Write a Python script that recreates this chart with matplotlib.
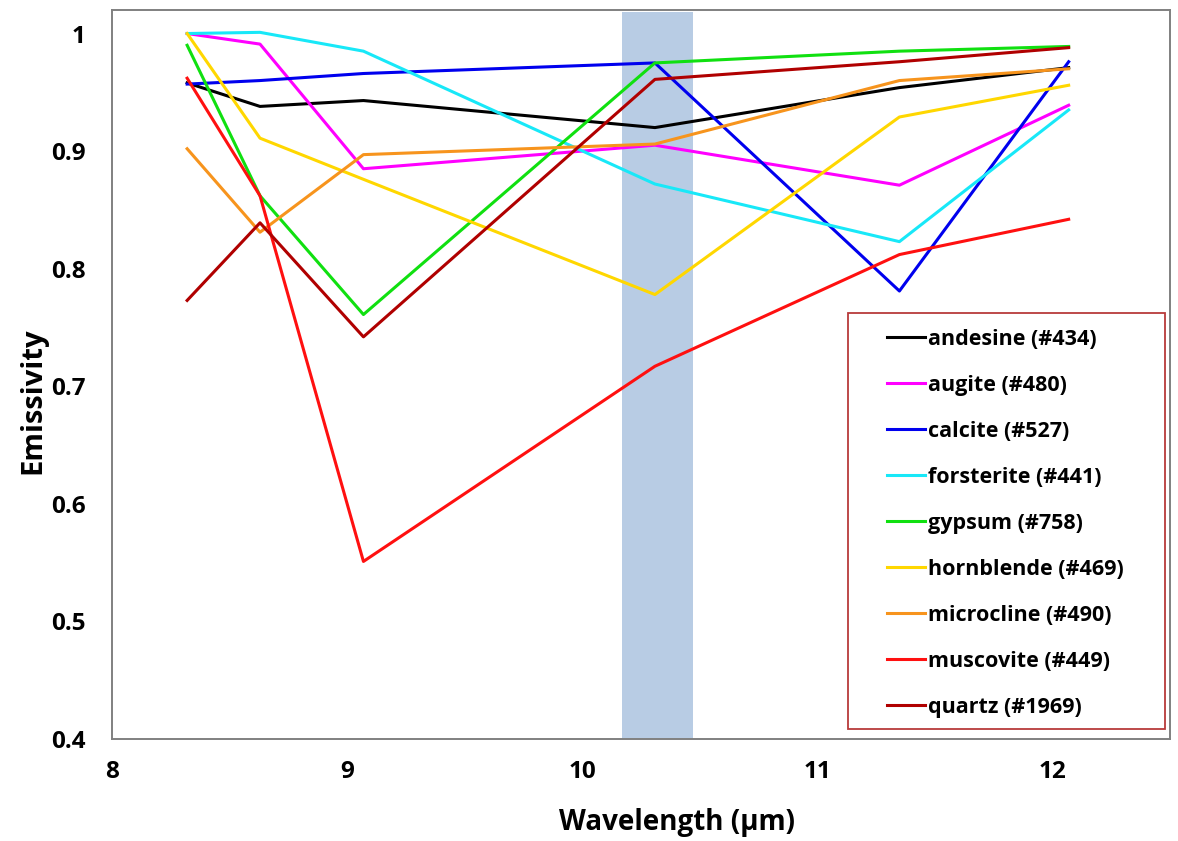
import matplotlib
matplotlib.use("Agg")
import matplotlib.pyplot as plt
from matplotlib.patches import Rectangle
from matplotlib.ticker import FuncFormatter

# wavelengths of the sensor bands (um)
wavelength = [8.32, 8.63, 9.07, 10.31, 11.35, 12.07]

andesine   = [0.958, 0.938, 0.943, 0.920, 0.954, 0.971]
augite     = [1.000, 0.991, 0.885, 0.905, 0.871, 0.939]
calcite    = [0.957, 0.960, 0.966, 0.975, 0.781, 0.976]
forsterite = [1.000, 1.001, 0.985, 0.872, 0.823, 0.935]
gypsum     = [0.990, 0.862, 0.761, 0.975, 0.985, 0.989]
hornblende = [1.000, 0.911, 0.876, 0.778, 0.929, 0.956]
microcline = [0.902, 0.831, 0.897, 0.906, 0.960, 0.970]
muscovite  = [0.962, 0.862, 0.551, 0.717, 0.812, 0.842]
quartz     = [0.773, 0.839, 0.742, 0.961, 0.976, 0.988]

labels = ["andesine (#434)", "augite (#480)", "calcite (#527)", "forsterite (#441)",
          "gypsum (#758)", "hornblende (#469)", "microcline (#490)",
          "muscovite (#449)", "quartz (#1969)"]
series = [andesine, augite, calcite, forsterite, gypsum, hornblende,
          microcline, muscovite, quartz]
colors = ["#000000", "#ff00ff", "#0000ee", "#18e8f8", "#10e010", "#ffd700",
          "#f7941d", "#ff1010", "#b00000"]

# highlighted band
band = (10.17, 10.47)

plt.rcParams['font.family'] = ['Open Sans', 'DejaVu Sans']
plt.rcParams['font.weight'] = 'bold'

fig = plt.figure(figsize=(11.78, 8.41), dpi=100)
ax = fig.add_axes([0.095, 0.1213, 0.898, 0.8668])

ax.axvspan(band[0], band[1], ymin=0, ymax=0.997, color="#b8cce4", zorder=0, lw=0)

for vals, lab, c in zip(series, labels, colors):
    ax.plot(wavelength, vals, color=c, lw=2.2, label=lab, zorder=2)

ax.set_xlim(8, 12.5)
ax.set_ylim(0.4, 1.02)
ax.set_xticks([8, 9, 10, 11, 12])
ax.set_yticks([0.4, 0.5, 0.6, 0.7, 0.8, 0.9, 1.0])
ax.yaxis.set_major_formatter(FuncFormatter(lambda v, p: "%g" % v))
ax.tick_params(length=0, labelsize=17.5)
ax.tick_params(axis='y', pad=19)
ax.tick_params(axis='x', pad=15)
for lbl in ax.get_xticklabels() + ax.get_yticklabels():
    lbl.set_fontweight('bold')

for s in ax.spines.values():
    s.set_color("#808080")
    s.set_linewidth(1.4)

ax.set_xlabel("Wavelength (µm)", fontsize=20, fontweight='bold')
ax.set_ylabel("Emissivity", fontsize=21, fontweight='bold')
ax.xaxis.set_label_coords(0.534, -0.0947)
ax.yaxis.set_label_coords(-0.0614, 0.4636)

# legend frame drawn as a box, entries placed inside it
ax.add_patch(Rectangle((0.6957, 0.0137), 0.2996, 0.5707, transform=ax.transAxes,
                       facecolor="white", edgecolor="#b83a3a", lw=1.3, zorder=3))
leg = ax.legend(loc='upper left', bbox_to_anchor=(0.7325, 0.5624),
                fontsize=15.5, frameon=False,
                labelspacing=1.16, handlelength=1.77, handletextpad=0.15,
                borderpad=0, borderaxespad=0)
leg.set_zorder(4)
for t in leg.get_texts():
    t.set_fontweight('bold')

fig.savefig("out.png", dpi=100)
